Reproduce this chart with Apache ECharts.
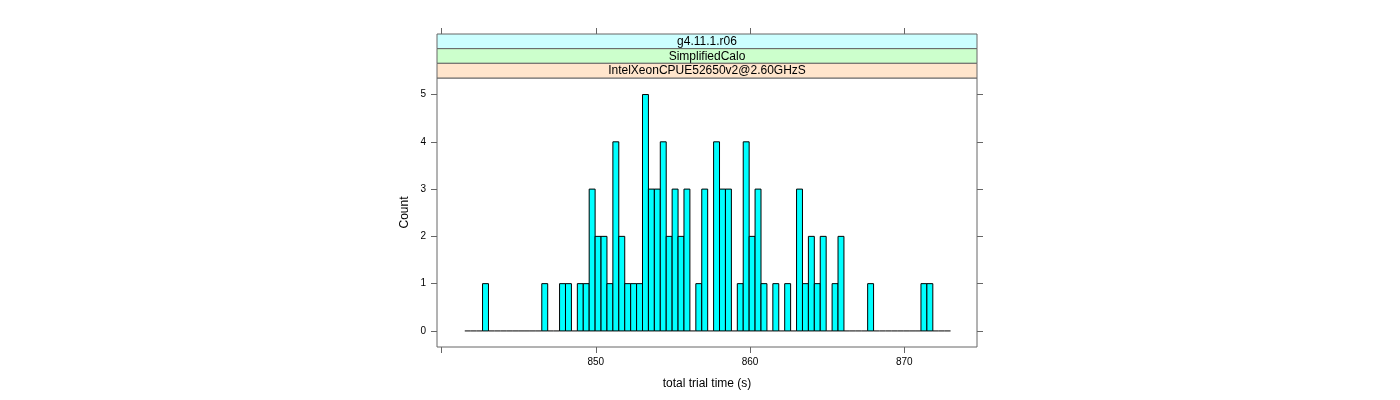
<!DOCTYPE html>
<html>
<head>
<meta charset="utf-8">
<script src="https://cdn.jsdelivr.net/npm/echarts@6/dist/echarts.min.js"></script>
<style>
html,body{margin:0;padding:0;background:#fff;}
#chart{width:1400px;height:400px;}
</style>
</head>
<body>
<div id="chart"></div>
<script>
// ---- data ----
const stripLabels = ["g4.11.1.r06", "SimplifiedCalo", "IntelXeonCPUE52650v2@2.60GHzS"];
const binStart = 841.51;     // first histogram break (s)
const binWidth = 0.384;      // histogram bin width (s)
const counts = [
  0,0,0,1,0,0,0,0,0,0,
  0,0,0,1,0,0,1,1,0,1,
  1,3,2,2,1,4,2,1,1,1,
  5,3,3,4,2,3,2,3,0,1,
  3,0,4,3,3,0,1,4,2,3,
  1,0,1,0,1,0,3,1,2,1,
  2,0,1,2,0,0,0,0,1,0,
  0,0,0,0,0,0,0,1,1,0,
  0,0
];
const xTicks = [840, 850, 860, 870];
const xLabels = [850, 860, 870];
const yTicks = [0, 1, 2, 3, 4, 5];
const xTitle = "total trial time (s)";
const yTitle = "Count";

// ---- chart ----
const FONT = "Liberation Sans";
const xMin = 839.71, xMax = 874.71;
const yMin = -0.34, yMax = 5.35;
const stripColors = ["#CCFFFF", "#CCFFCC", "#FFE5CC"];
const axisCol = "#666";

const barData = counts.map((c, i) => [binStart + i * binWidth, binStart + (i + 1) * binWidth, c]);
const stripData = stripLabels.map((s, i) => [i, s]);

const chart = echarts.init(document.getElementById('chart'), null, {renderer: 'canvas'});
chart.setOption({
  animation: false,
  backgroundColor: '#fff',
  textStyle: {fontFamily: FONT},
  grid: [
    {left: 437, right: 423, top: 78, bottom: 53, show: true, borderColor: axisCol, borderWidth: 1, backgroundColor: 'transparent'},
    {left: 437, right: 423, top: 34, height: 44, show: false}
  ],
  xAxis: [
    {
      type: 'value', gridIndex: 0, min: xMin, max: xMax, position: 'bottom',
      name: xTitle, nameLocation: 'middle', nameGap: 31,
      nameTextStyle: {fontFamily: FONT, fontSize: 12, color: '#000'},
      axisLine: {show: false, onZero: false},
      axisTick: {show: true, length: 6, customValues: xTicks, lineStyle: {color: axisCol}},
      axisLabel: {show: true, customValues: xLabels, margin: 10, fontFamily: FONT, fontSize: 10, color: '#000'},
      splitLine: {show: false}
    },
    {
      type: 'value', gridIndex: 1, min: xMin, max: xMax, position: 'top',
      axisLine: {show: false, onZero: false},
      axisTick: {show: true, length: 6, customValues: xTicks, lineStyle: {color: axisCol}},
      axisLabel: {show: false},
      splitLine: {show: false}
    }
  ],
  yAxis: [
    {
      type: 'value', gridIndex: 0, min: yMin, max: yMax, position: 'left',
      name: yTitle, nameLocation: 'middle', nameGap: 26,
      nameTextStyle: {fontFamily: FONT, fontSize: 12, color: '#000'},
      axisLine: {show: false, onZero: false},
      axisTick: {show: true, length: 6, customValues: yTicks, lineStyle: {color: axisCol}},
      axisLabel: {show: true, customValues: yTicks, margin: 11, fontFamily: FONT, fontSize: 10, color: '#000'},
      splitLine: {show: false}
    },
    {
      type: 'value', gridIndex: 0, min: yMin, max: yMax, position: 'right',
      axisLine: {show: false, onZero: false},
      axisTick: {show: true, length: 6, customValues: yTicks, lineStyle: {color: axisCol}},
      axisLabel: {show: false},
      splitLine: {show: false}
    },
    {
      type: 'value', gridIndex: 1, min: 0, max: stripLabels.length, show: false,
      axisLine: {onZero: false}
    }
  ],
  series: [
    {
      type: 'custom', xAxisIndex: 0, yAxisIndex: 0,
      data: barData,
      encode: {x: [0, 1], y: 2},
      renderItem: function (params, api) {
        const x0 = api.value(0), x1 = api.value(1), c = api.value(2);
        const p0 = api.coord([x0, c]);
        const p1 = api.coord([x1, 0]);
        if (c === 0) {
          return {type: 'line', shape: {x1: p0[0], y1: p1[1], x2: p1[0], y2: p1[1]},
                  style: {stroke: '#000', lineWidth: 1}};
        }
        return {type: 'rect', shape: {x: p0[0], y: p0[1], width: p1[0] - p0[0], height: p1[1] - p0[1]},
                style: {fill: '#00FFFF', stroke: '#000', lineWidth: 1}};
      }
    },
    {
      type: 'custom', xAxisIndex: 1, yAxisIndex: 2,
      data: stripData,
      renderItem: function (params, api) {
        const i = api.value(0);
        const n = stripLabels.length;
        const a = api.coord([xMin, n - i]);
        const b = api.coord([xMax, n - i - 1]);
        return {
          type: 'group',
          children: [
            {type: 'rect', shape: {x: a[0], y: a[1], width: b[0] - a[0], height: b[1] - a[1]},
             style: {fill: stripColors[i], stroke: axisCol, lineWidth: 1}},
            {type: 'text', x: (a[0] + b[0]) / 2, y: (a[1] + b[1]) / 2 + 0.5,
             style: {text: stripLabels[i], fill: '#000', font: '12px "' + FONT + '"', align: 'center', verticalAlign: 'middle'}}
          ]
        };
      }
    }
  ]
});
</script>
</body>
</html>
